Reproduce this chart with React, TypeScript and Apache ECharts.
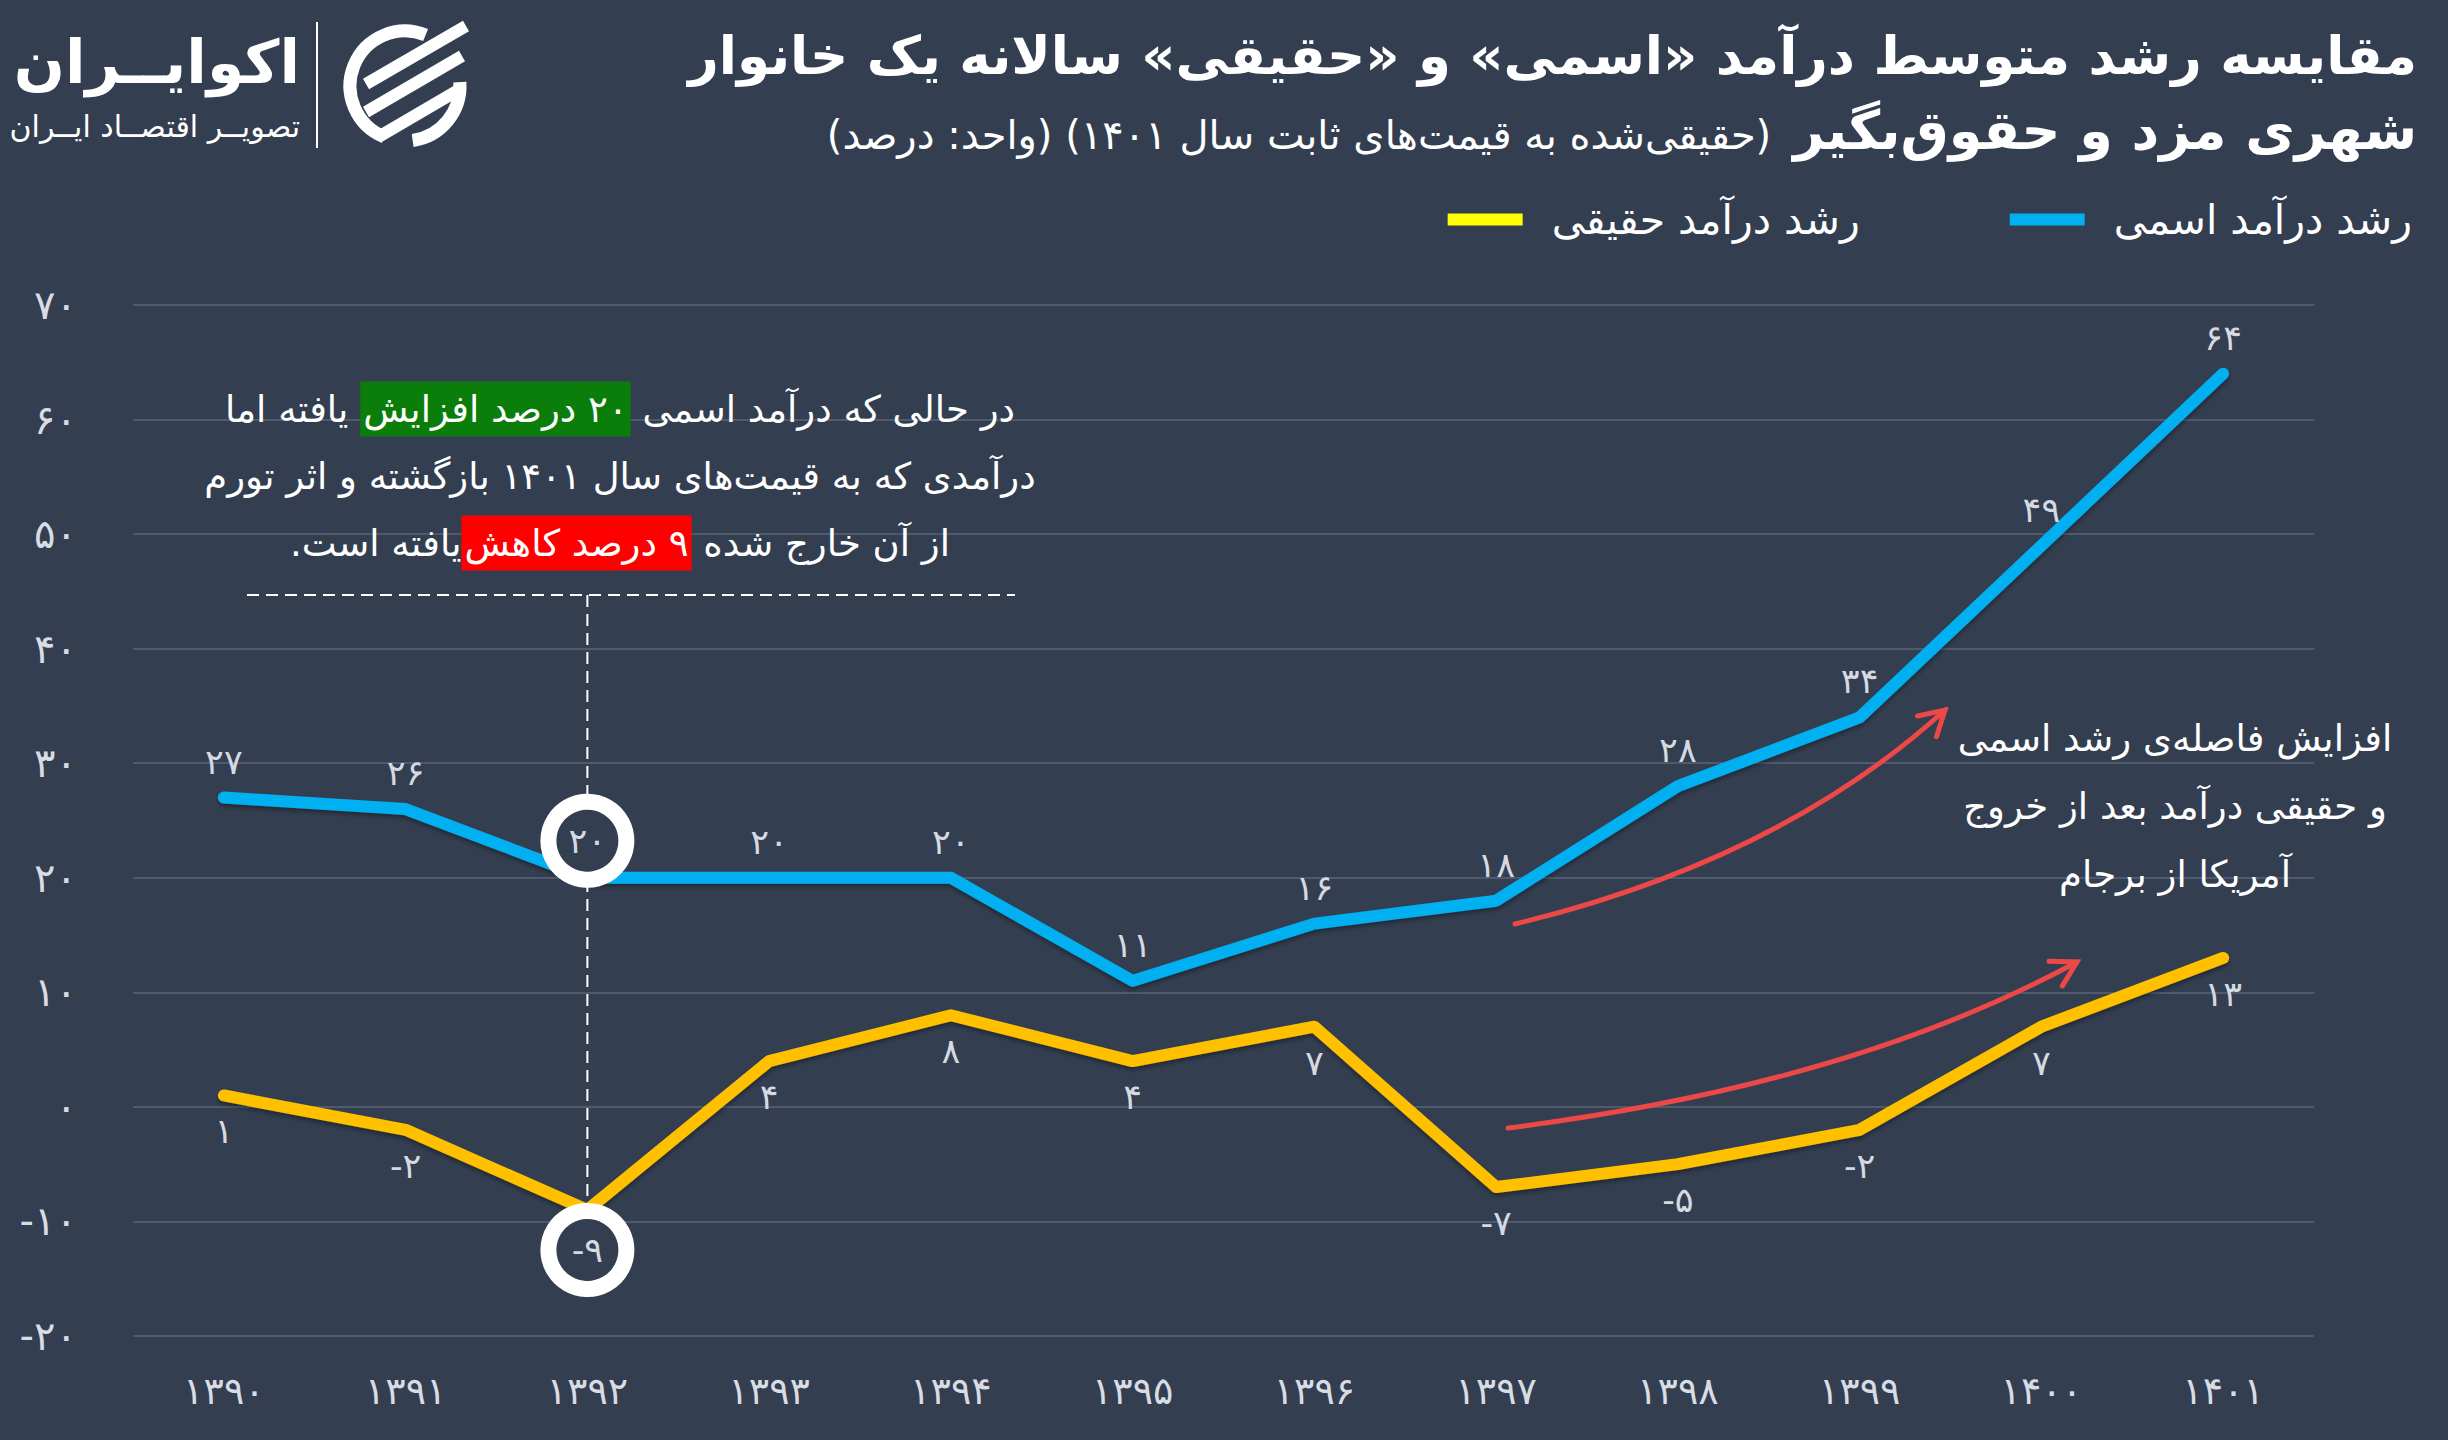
import React, { useEffect, useRef } from "react";
import * as echarts from "echarts";

const FONT = "'DejaVu Sans', sans-serif";
const BG = "#333e50";

const years = [1390, 1391, 1392, 1393, 1394, 1395, 1396, 1397, 1398, 1399, 1400, 1401];
const nominalGrowth = [27, 26, 20, 20, 20, 11, 16, 18, 28, 34, 49, 64];
const realGrowth = [1, -2, -9, 4, 8, 4, 7, -7, -5, -2, 7, 13];
const highlightIndex = 2;

const yMin = -20;
const yMax = 70;
const yStep = 10;

const nominalName = "رشد درآمد اسمی";
const realName = "رشد درآمد حقیقی";
const nominalColor = "#00b0f0";
const realLineColor = "#ffc000";
const realLegendColor = "#ffff00";

const titleLine1 = "مقایسه رشد متوسط درآمد «اسمی» و «حقیقی» سالانه یک خانوار";
const titleLine2Bold = "شهری مزد و حقوق\u200Cبگیر";
const titleLine2Small = "(حقیقی\u200Cشده به قیمت\u200Cهای ثابت سال ۱۴۰۱) (واحد: درصد)";

const logoName = "اکوایــران";
const logoSub = "تصویــر اقتصــاد ایــران";

const noteRight = ["افزایش فاصله\u200Cی رشد اسمی", "و حقیقی درآمد بعد از خروج", "آمریکا از برجام"];

const FA = "۰۱۲۳۴۵۶۷۸۹";
const toFa = (v: number | string) => String(v).replace(/\d/g, (d) => FA[Number(d)]);
const faSigned = (v: number) => (v < 0 ? "-" + toFa(-v) : toFa(v));
const rtl = (s: string) => "\u200F" + s + "\u200F";

function arrow(p0: number[], c: number[], p2: number[], color: string) {
  const dx = p2[0] - c[0];
  const dy = p2[1] - c[1];
  const ang = Math.atan2(dy, dx);
  const len = 28;
  const spread = (30 * Math.PI) / 180;
  const w1 = [p2[0] - len * Math.cos(ang - spread), p2[1] - len * Math.sin(ang - spread)];
  const w2 = [p2[0] - len * Math.cos(ang + spread), p2[1] - len * Math.sin(ang + spread)];
  return [
    {
      type: "bezierCurve",
      z: 50,
      shape: { x1: p0[0], y1: p0[1], x2: p2[0], y2: p2[1], cpx1: c[0], cpy1: c[1] },
      style: { stroke: color, lineWidth: 5, fill: null, lineCap: "round" },
    },
    {
      type: "polyline",
      z: 50,
      shape: { points: [w1, p2, w2] },
      style: { stroke: color, lineWidth: 5, fill: null, lineCap: "round", lineJoin: "miter" },
    },
  ];
}

export default function App() {
  const ref = useRef<HTMLDivElement>(null);

  useEffect(() => {
    if (!ref.current) return;
    const chart = echarts.init(ref.current, null, { renderer: "svg" });

    const labelStyle = { color: "#d5dae2", fontSize: 35, fontFamily: FONT };

    const option: any = {
      animation: false,
      backgroundColor: BG,
      grid: { left: 133, right: 134, top: 305, bottom: 104 },
      legend: {
        right: 31,
        top: 194,
        icon: "rect",
        itemWidth: 75,
        itemHeight: 12,
        itemGap: 150,
        data: [
          { name: realName, itemStyle: { color: realLegendColor } },
          { name: nominalName, itemStyle: { color: nominalColor } },
        ],
        textStyle: { color: "#ffffff", fontSize: 41, fontFamily: FONT, padding: [0, 0, 0, 24] },
      },
      xAxis: {
        type: "category",
        data: years,
        boundaryGap: true,
        axisLine: { show: false },
        axisTick: { show: false },
        axisLabel: {
          color: "#d8dce3",
          fontSize: 38,
          fontFamily: FONT,
          margin: 36,
          formatter: (v: string) => toFa(v),
        },
      },
      yAxis: {
        type: "value",
        min: yMin,
        max: yMax,
        interval: yStep,
        axisLine: { show: false },
        axisTick: { show: false },
        splitLine: { lineStyle: { color: "#5a6476", width: 1.5 } },
        axisLabel: {
          color: "#d8dce3",
          fontSize: 40,
          fontFamily: FONT,
          margin: 56,
          formatter: (v: number) => faSigned(v),
        },
      },
      series: [
        {
          type: "line",
          name: nominalName,
          data: nominalGrowth.map((v, i) => (i === highlightIndex ? { value: v, label: { show: false } } : v)),
          symbol: "circle",
          symbolSize: 1,
          itemStyle: { color: nominalColor },
          lineStyle: {
            color: nominalColor,
            width: 12,
            cap: "round",
            join: "round",
            shadowColor: "rgba(0,0,0,0.35)",
            shadowBlur: 4,
            shadowOffsetY: 3,
          },
          label: { show: true, position: "top", distance: 18, ...labelStyle, formatter: (p: any) => faSigned(p.value) },
          z: 3,
        },
        {
          type: "line",
          name: realName,
          data: realGrowth.map((v, i) => (i === highlightIndex ? { value: v, label: { show: false } } : v)),
          symbol: "circle",
          symbolSize: 1,
          itemStyle: { color: realLineColor },
          lineStyle: {
            color: realLineColor,
            width: 12,
            cap: "round",
            join: "round",
            shadowColor: "rgba(0,0,0,0.35)",
            shadowBlur: 4,
            shadowOffsetY: 3,
          },
          label: {
            show: true,
            position: "bottom",
            distance: 18,
            ...labelStyle,
            formatter: (p: any) => faSigned(p.value),
          },
          z: 3,
        },
      ],
    };

    chart.setOption(option);

    const pNom = chart.convertToPixel({ gridIndex: 0 }, [highlightIndex, nominalGrowth[highlightIndex]]) as number[];
    const pReal = chart.convertToPixel({ gridIndex: 0 }, [highlightIndex, realGrowth[highlightIndex]]) as number[];
    const cNom = [pNom[0], pNom[1] - 37];
    const cReal = [pReal[0], pReal[1] + 40];
    const ringR = 39;

    const graphic: any[] = [
      // logo
      {
        type: "text",
        x: 300,
        y: 62,
        style: { text: logoName, fill: "#ffffff", fontSize: 60, fontWeight: "bold", fontFamily: FONT, align: "right", verticalAlign: "middle" },
      },
      {
        type: "text",
        x: 300,
        y: 126,
        style: { text: logoSub, fill: "#ffffff", fontSize: 30, fontFamily: FONT, align: "right", verticalAlign: "middle" },
      },
      { type: "line", shape: { x1: 317, y1: 22, x2: 317, y2: 148 }, style: { stroke: "#ffffff", lineWidth: 2 } },
      {
        type: "arc",
        shape: { cx: 405, cy: 86, r: 55, startAngle: (112 * Math.PI) / 180, endAngle: (292 * Math.PI) / 180, clockwise: true },
        style: { stroke: "#ffffff", lineWidth: 13, fill: null },
      },
      {
        type: "arc",
        shape: { cx: 405, cy: 86, r: 55, startAngle: (-4 * Math.PI) / 180, endAngle: (82 * Math.PI) / 180, clockwise: true },
        style: { stroke: "#ffffff", lineWidth: 13, fill: null },
      },
      { type: "line", shape: { x1: 366, y1: 84, x2: 466, y2: 26 }, style: { stroke: "#ffffff", lineWidth: 12 } },
      { type: "line", shape: { x1: 366, y1: 112, x2: 462, y2: 56 }, style: { stroke: "#ffffff", lineWidth: 12 } },
      { type: "line", shape: { x1: 380, y1: 136, x2: 462, y2: 88 }, style: { stroke: "#ffffff", lineWidth: 12 } },
      // titles
      {
        type: "text",
        x: 2417,
        y: 55,
        style: { text: rtl(titleLine1), fill: "#ffffff", fontSize: 53, fontWeight: "bold", fontFamily: FONT, align: "right", verticalAlign: "middle" },
      },
      {
        type: "text",
        x: 2417,
        y: 130,
        style: {
          text: "{s|" + rtl(titleLine2Small) + "}{g| }{b|" + rtl(titleLine2Bold) + "}",
          align: "right",
          verticalAlign: "middle",
          fontFamily: FONT,
          rich: {
            s: { fill: "#ffffff", fontSize: 40, fontFamily: FONT, verticalAlign: "bottom", padding: [0, 0, 2, 0] },
            g: { fill: "#ffffff", fontSize: 40, fontFamily: FONT, verticalAlign: "bottom", width: 22 },
            b: { fill: "#ffffff", fontSize: 54, fontWeight: "bold", fontFamily: FONT, verticalAlign: "bottom" },
          },
        },
      },
      // left note
      {
        type: "text",
        x: 620,
        y: 476,
        z: 60,
        style: {
          text:
            "{n|" + rtl("یافته اما") + "}{n| }{g|" + rtl("۲۰ درصد افزایش") + "}{n| }{n|" + rtl("در حالی که درآمد اسمی") + "}\n" +
            "{n|" + rtl("درآمدی که به قیمت\u200Cهای سال ۱۴۰۱ بازگشته و اثر تورم") + "}\n" +
            "{n|" + rtl("یافته است.") + "}{r|" + rtl("۹ درصد کاهش") + "}{n| }{n|" + rtl("از آن خارج شده") + "}",
          align: "center",
          verticalAlign: "middle",
          fontFamily: FONT,
          fontSize: 37,
          fill: "#ffffff",
          rich: {
            n: { fill: "#ffffff", fontSize: 37, fontFamily: FONT, lineHeight: 67 },
            g: { fill: "#ffffff", fontSize: 37, fontFamily: FONT, lineHeight: 67, backgroundColor: "#0a7d0a", padding: [9, 3, 9, 3] },
            r: { fill: "#ffffff", fontSize: 37, fontFamily: FONT, lineHeight: 67, backgroundColor: "#ff0000", padding: [9, 3, 9, 3] },
          },
        },
      },
      {
        type: "line",
        z: 40,
        shape: { x1: 247, y1: 595, x2: 1015, y2: 595 },
        style: { stroke: "#ffffff", lineWidth: 2, lineDash: [12, 7] },
      },
      {
        type: "line",
        z: 40,
        shape: { x1: cNom[0], y1: 595, x2: cReal[0], y2: cReal[1] },
        style: { stroke: "#ffffff", lineWidth: 2, lineDash: [12, 7] },
      },
      // circles
      {
        type: "circle",
        z: 70,
        shape: { cx: cNom[0], cy: cNom[1], r: ringR },
        style: { fill: BG, stroke: "#ffffff", lineWidth: 16 },
      },
      {
        type: "text",
        z: 71,
        x: cNom[0],
        y: cNom[1],
        style: { text: faSigned(nominalGrowth[highlightIndex]), fill: "#d5dae2", fontSize: 35, fontFamily: FONT, align: "center", verticalAlign: "middle" },
      },
      {
        type: "circle",
        z: 70,
        shape: { cx: cReal[0], cy: cReal[1], r: ringR },
        style: { fill: BG, stroke: "#ffffff", lineWidth: 16 },
      },
      {
        type: "text",
        z: 71,
        x: cReal[0],
        y: cReal[1],
        style: { text: faSigned(realGrowth[highlightIndex]), fill: "#d5dae2", fontSize: 35, fontFamily: FONT, align: "center", verticalAlign: "middle" },
      },
      // right note
      {
        type: "text",
        x: 2175,
        y: 806,
        z: 60,
        style: {
          text: noteRight.map(rtl).join("\n"),
          fill: "#ffffff",
          fontSize: 37,
          fontFamily: FONT,
          lineHeight: 68,
          align: "center",
          verticalAlign: "middle",
        },
      },
      ...arrow([1515, 924], [1780, 860], [1945, 710], "#ec4848"),
      ...arrow([1508, 1128], [1850, 1085], [2077, 962], "#ec4848"),
    ];

    chart.setOption({ graphic });

    return () => chart.dispose();
  }, []);

  return <div ref={ref} style={{ position: "fixed", left: 0, top: 0, width: 2448, height: 1440 }} />;
}
